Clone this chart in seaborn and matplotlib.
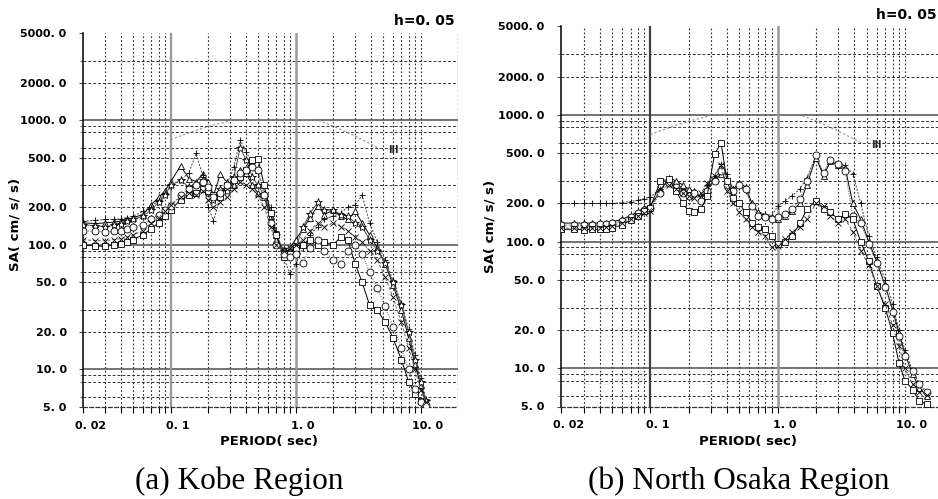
import matplotlib
matplotlib.use("Agg")
import matplotlib.pyplot as plt
import matplotlib.transforms as mtransforms
import pandas as pd
import seaborn as sns

sns.set_theme(style="white")
plt.rcParams["font.family"] = ["DejaVu Sans"]

# ---------------------------------------------------------------- data
period_kobe = [0.02, 0.025, 0.03, 0.035, 0.04, 0.045, 0.05,
               0.06, 0.07, 0.08, 0.09, 0.10,
               0.12, 0.14, 0.16, 0.18, 0.20,
               0.22, 0.25, 0.28, 0.32, 0.36,
               0.40, 0.45, 0.50, 0.56, 0.63,
               0.70, 0.80, 0.90, 1.0, 1.15,
               1.3, 1.5, 1.7, 2.0, 2.3,
               2.6, 3.0, 3.4, 3.9, 4.5,
               5.2, 6.0, 7.0, 8.0, 9.0,
               10.0, 11.0]

kobe_tri = [150, 148, 150, 152, 155, 160, 165,
            175, 210, 240, 270, 320,
            430, 340, 320, 370, 320,
            250, 370, 320, 300, 400,
            380, 300, 260, 240, 170,
            110, 92, 95, 110, 135,
            165, 205, 175, 190, 170,
            160, 185, 150, 120, 95,
            70, 48, 30, 18, 11,
            7.5, 5.3]
kobe_plus = [155, 157, 160, 160, 162, 165, 170,
             185, 200, 230, 260, 290,
             330, 380, 540, 360, 200,
             156, 240, 300, 420, 690,
             560, 450, 380, 260, 200,
             130, 80, 58, 70, 95,
             120, 140, 160, 170, 180,
             200, 210, 250, 150, 105,
             75, 52, 34, 21, 13,
             8.5, 5.8]
kobe_star = [145, 142, 140, 143, 148, 155, 160,
             170, 190, 220, 250, 300,
             330, 290, 300, 330, 260,
             230, 280, 270, 350, 600,
             480, 350, 300, 250, 180,
             120, 90, 88, 95, 140,
             178, 220, 190, 190, 175,
             170, 150, 140, 110, 90,
             72, 50, 33, 20, 12,
             8, 5.6]
kobe_sq = [100, 98, 97, 100, 102, 105, 110,
           120, 135, 150, 170, 190,
           230, 250, 260, 280, 270,
           250, 240, 300, 330, 350,
           400, 480, 490, 300, 180,
           120, 80, 85, 95, 100,
           110, 100, 105, 100, 116,
           110, 70, 50, 33, 30,
           24, 18, 12, 8, 6.4,
           5.6, 5.0]
kobe_circ = [130, 128, 127, 128, 130, 133, 138,
             145, 160, 175, 190, 205,
             250, 280, 300, 320, 290,
             240, 260, 300, 330, 380,
             400, 420, 400, 250, 150,
             100, 85, 80, 85, 72,
             95, 110, 90, 75, 70,
             90, 100, 85, 60, 45,
             32, 22, 15, 10, 7,
             5.5, 5.2]
kobe_x = [110, 108, 108, 110, 112, 115, 120,
          130, 150, 165, 185, 210,
          240, 260, 250, 270, 230,
          200, 220, 240, 280, 320,
          300, 280, 250, 200, 140,
          100, 90, 95, 100, 110,
          130, 150, 140, 150, 140,
          130, 115, 105, 90, 75,
          55, 38, 24, 15, 10,
          6.8, 5.5]

period_osaka = [0.02, 0.025, 0.03, 0.035, 0.04, 0.045, 0.05,
                0.06, 0.07, 0.08, 0.09, 0.10,
                0.12, 0.14, 0.16, 0.18, 0.20,
                0.22, 0.25, 0.28, 0.32, 0.36,
                0.40, 0.45, 0.50, 0.56, 0.63,
                0.70, 0.80, 0.90, 1.0, 1.15,
                1.3, 1.5, 1.7, 2.0, 2.3,
                2.6, 3.0, 3.4, 3.9, 4.5,
                5.2, 6.0, 7.0, 8.0, 9.0,
                10.0, 11.5, 13.0, 15.0]

osaka_plus = [200, 200, 200, 200, 200, 200, 200,
              203, 207, 212, 218, 225,
              260, 300, 290, 260, 250,
              240, 230, 280, 330, 410,
              340, 260, 270, 250, 200,
              170, 165, 160, 190, 210,
              230, 260, 320, 470, 340,
              440, 420, 400, 340, 200,
              110, 75, 50, 32, 20,
              14, 9.5, 7.5, 6.3]
osaka_tri = [140, 140, 140, 140, 140, 141, 143,
             150, 160, 172, 185, 192,
             250, 320, 300, 280, 260,
             250, 220, 260, 310, 340,
             300, 260, 290, 270, 200,
             170, 160, 155, 150, 160,
             175, 200, 280, 460, 330,
             430, 400, 380, 200, 150,
             100, 70, 45, 29, 19,
             13, 9, 7, 6]
osaka_circ = [135, 135, 136, 136, 137, 138, 140,
              145, 155, 168, 178, 185,
              240, 290, 270, 240, 230,
              240, 210, 250, 300, 360,
              280, 250, 280, 260, 190,
              160, 155, 150, 155, 165,
              180, 215, 300, 480, 350,
              440, 410, 360, 160, 140,
              95, 68, 44, 28, 18,
              12.5, 9.5, 7.5, 6.5]
osaka_sq = [125, 125, 124, 125, 125, 126, 128,
            135, 148, 160, 175, 185,
            300, 310, 250, 200, 175,
            172, 180, 230, 490, 600,
            300, 220, 200, 170, 140,
            130, 125, 110, 95, 100,
            110, 140, 180, 210, 180,
            170, 150, 165, 150, 100,
            70, 45, 30, 19, 11,
            8, 6.8, 5.5, 5.2]
osaka_dash = [128, 127, 127, 128, 129, 130, 133,
              140, 150, 160, 168, 175,
              260, 280, 260, 240, 230,
              220, 240, 290, 330, 400,
              250, 200, 170, 150, 130,
              120, 110, 90, 92, 105,
              120, 130, 150, 200, 190,
              160, 140, 150, 120, 85,
              65, 45, 32, 22, 15,
              10, 7.5, 6.5, 6.2]

# design spectrum (level III)
design_period = [0.1, 0.15, 0.2, 0.28, 0.3, 1.5, 2.0, 2.9, 3.8, 4.7]
design_sa = [700, 810, 890, 970, 1000, 1000, 895, 757, 660, 590]

x_ticks = [0.02, 0.1, 1.0, 10.0]
x_tick_labels = ["0. 02", "0. 1", "1. 0", "10. 0"]
y_ticks = [5, 10, 20, 50, 100, 200, 500, 1000, 2000, 5000]
y_tick_labels = ["5. 0", "10. 0", "20. 0", "50. 0", "100. 0",
                 "200. 0", "500. 0", "1000. 0", "2000. 0", "5000. 0"]

# marker, line style, line colour for each record
series_styles = {
    "tri": ("^", "-", "black"),
    "plus": ("+", (0, (2, 1.5)), "0.25"),
    "star": ("*", "-", "0.3"),
    "sq": ("s", "-", "black"),
    "circ": ("o", (0, (1, 1.5)), "0.35"),
    "x": ("x", (0, (3, 2)), "0.4"),
    "dash": ("x", (0, (3, 2)), "0.35"),
}

kobe = pd.concat([
    pd.DataFrame({"period": period_kobe, "sa": v, "record": k})
    for k, v in [("tri", kobe_tri), ("plus", kobe_plus), ("star", kobe_star),
                 ("sq", kobe_sq), ("circ", kobe_circ), ("x", kobe_x)]
])
osaka = pd.concat([
    pd.DataFrame({"period": period_osaka, "sa": v, "record": k})
    for k, v in [("plus", osaka_plus), ("tri", osaka_tri), ("circ", osaka_circ),
                 ("sq", osaka_sq), ("dash", osaka_dash)]
])

# ---------------------------------------------------------------- figure
W, H = 938, 499
fig = plt.figure(figsize=(W / 100, H / 100), dpi=100)
fig.patch.set_facecolor("white")


def px_axes(left, top, right, bottom):
    return fig.add_axes([left / W, 1 - bottom / H, (right - left) / W,
                         (bottom - top) / H])


ax_a = px_axes(83.3, 33.0, 458.3, 407.0)
ax_b = px_axes(561.3, 26.2, 943.2, 406.5)

minor_x = [m * d for d in (0.01, 0.1, 1.0, 10.0) for m in range(2, 10)
           if 0.02 < m * d < 20 and m * d not in (0.1, 1.0)]
minor_y = [m * d for d in (1, 10, 100, 1000) for m in (2, 3, 5, 6, 8, 9)
           if 5 < m * d < 5000]


def decorate(ax, line_01_color, right_edge):
    ax.set_xscale("log")
    ax.set_yscale("log")
    ax.set_xlim(0.02, 20)
    ax.set_ylim(5, 5000)
    ax.set_facecolor("white")
    ax.grid(False)

    for y in minor_y:
        if y in (10, 100, 1000):
            continue
        ax.axhline(y, color="0.2", lw=0.7, ls=(0, (3, 2)), zorder=0)
    for y in (10, 100, 1000):
        ax.axhline(y, color="0.3", lw=1.1, zorder=0.5)
    for x in minor_x + [10.0]:
        ax.axvline(x, color="0.15", lw=0.8, ls=(0, (1.5, 2)), zorder=0)
    ax.axvline(0.1, color=line_01_color, lw=1.6, zorder=0.5)
    ax.axvline(1.0, color="0.6", lw=1.8, zorder=0.5)

    for s in ("top", "right"):
        ax.spines[s].set_visible(False)
    if right_edge:
        ax.axvline(20, color="0.2", lw=0.9, ls=(0, (2, 1.5)), zorder=0)
    ax.spines["left"].set_color("black")
    ax.spines["left"].set_linewidth(1.1)
    ax.spines["bottom"].set_color("0.2")
    ax.spines["bottom"].set_linewidth(0.9)
    ax.spines["bottom"].set_linestyle((0, (3, 2)))

    ax.set_xticks(x_ticks)
    ax.set_xticklabels(x_tick_labels)
    ax.set_xticks(minor_x, minor=True)
    ax.set_xticklabels([], minor=True)
    ax.set_yticks(y_ticks)
    ax.set_yticklabels(y_tick_labels)
    ax.set_yticks([y for y in minor_y if y not in y_ticks], minor=True)
    ax.set_yticklabels([], minor=True)
    ax.tick_params(axis="x", which="both", direction="out", length=4,
                   width=0.8, color="black", bottom=True, pad=6)
    ax.tick_params(axis="y", which="major", direction="out", length=3,
                   width=0.8, color="0.3", left=True, pad=9)
    ax.tick_params(axis="y", which="minor", direction="out", length=2,
                   width=0.6, color="0.4", left=True)
    for lab in ax.get_xticklabels() + ax.get_yticklabels():
        lab.set_fontweight("bold")
        lab.set_fontsize(8)
        lab.set_color("black")
    shift = mtransforms.ScaledTranslation(7 / 100, 0, fig.dpi_scale_trans)
    for lab in ax.get_xticklabels():
        lab.set_transform(lab.get_transform() + shift)
    ax.set_xlabel("")
    ax.set_ylabel("")


def draw_records(ax, data):
    for rec, sub in data.groupby("record", sort=False):
        marker, ls, col = series_styles[rec]
        sns.lineplot(data=sub, x="period", y="sa", ax=ax, estimator=None,
                     sort=False, color=col, lw=0.7, linestyle=ls,
                     marker=marker, markersize=5 if marker != "*" else 6,
                     markerfacecolor="white", markeredgecolor="black",
                     markeredgewidth=0.6, legend=False, zorder=3)
    sns.lineplot(x=design_period, y=design_sa, ax=ax, color="0.55", lw=0.8,
                 linestyle=(0, (2, 2)), legend=False, zorder=2)
    ax.text(6.0, 575, "III", fontsize=7, fontweight="bold",
            ha="center", va="center", zorder=4)


draw_records(ax_a, kobe)
draw_records(ax_b, osaka)
decorate(ax_a, "0.6", True)
decorate(ax_b, "0.25", False)

bold = dict(fontweight="bold", color="black")
fig.text(455 / W, 1 - 21 / H, "h=0. 05", ha="right", va="center",
         fontsize=10, **bold)
fig.text(937 / W, 1 - 15 / H, "h=0. 05", ha="right", va="center",
         fontsize=10, **bold)
fig.text(269 / W, 1 - 442 / H, "PERIOD( sec)", ha="center", va="center",
         fontsize=9.5, **bold)
fig.text(748 / W, 1 - 442 / H, "PERIOD( sec)", ha="center", va="center",
         fontsize=9.5, **bold)
fig.text(15 / W, 1 - 224 / H, "SA( cm/ s/ s)", ha="center", va="center",
         rotation=90, fontsize=9.5, **bold)
fig.text(490 / W, 1 - 226 / H, "SA( cm/ s/ s)", ha="center", va="center",
         rotation=90, fontsize=9.5, **bold)
fig.text(239 / W, 1 - 481 / H, "(a) Kobe Region", ha="center", va="center",
         fontsize=22.5, family="Liberation Serif", color="black")
fig.text(739 / W, 1 - 481 / H, "(b) North Osaka Region", ha="center",
         va="center", fontsize=22.5, family="Liberation Serif", color="black")

fig.savefig("out.png", dpi=100, facecolor="white")
